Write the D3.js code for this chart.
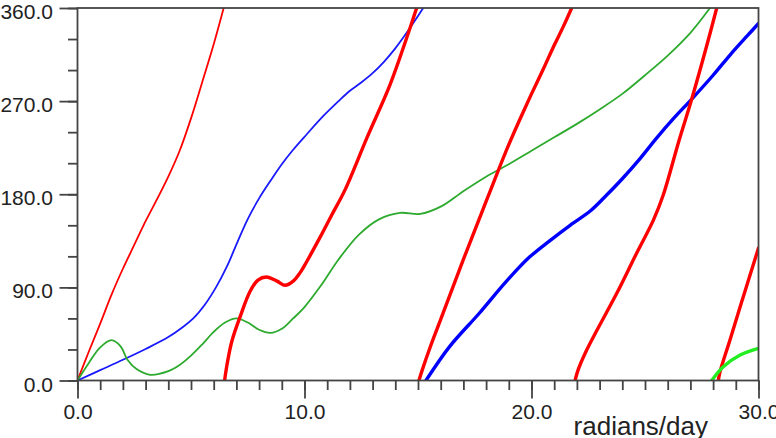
<!DOCTYPE html>
<html>
<head>
<meta charset="utf-8">
<script src="https://cdn.jsdelivr.net/npm/d3@7"></script>
<style>
  html, body { margin: 0; padding: 0; background: #fff; }
  svg { display: block; font-family: "Liberation Sans", Arial, Helvetica, sans-serif; }
</style>
</head>
<body>
<div id="chart"></div>
<script>
// phase (degrees) against frequency (radians/day), one array of [x, value] per curve
const redThinA   = [[0,0],[0.5,28],[1.0,55],[1.5,83],[2.0,108],[2.5,131],[3.0,154],[3.5,175],[4.0,197],[4.5,222],[5.04,256],[5.6,296],[6.0,325],[6.44,360]];
const blueThinB  = [[0,0],[1.0,10],[2.0,20],[3.0,30.5],[4.0,42],[4.6,51],[5.1,60],[5.6,73],[6.1,90],[6.6,111],[7.05,134],[7.5,156],[8.0,176],[8.5,193],[9.0,209],[9.5,223],[10.1,238],[10.8,255],[11.5,270],[12.0,280],[12.5,288],[13.0,297],[13.5,308],[14.0,321],[14.5,336],[15.23,360]];
const greenThinC = [[0,0],[0.5,17],[1.0,32],[1.5,39],[1.9,33],[2.2,20],[2.6,11],[3.2,5.5],[4.0,9],[4.5,15],[5.0,24],[5.5,35],[6.0,47],[6.5,56],[7.0,60],[7.5,56],[8.0,49],[8.5,46],[9.0,50],[9.5,60],[10.0,71],[10.7,91],[11.5,117],[12.4,141],[13.3,156],[14.2,162],[15.1,161],[16.0,168],[17.0,183],[18.0,197],[19.0,209],[20.0,222],[21.0,235],[22.0,248],[23.0,262],[24.0,277],[25.0,295],[26.0,314],[27.0,336],[27.86,360]];
const redThickD  = [[6.48,0],[6.6,17],[6.8,38],[7.17,62],[7.6,86],[7.95,97],[8.32,100],[8.79,96],[9.15,92],[9.5,96],[9.8,104],[10.1,115],[10.7,139],[11.2,160],[11.78,184],[12.74,234],[13.77,286],[14.5,331],[14.94,360]];
const redThickE  = [[15.04,0],[15.2,11],[15.5,30],[16.0,59],[16.5,88],[17.0,117],[17.5,145],[18.0,173],[18.5,201],[19.0,228],[19.5,253],[20.0,277],[20.5,300],[21.0,324],[21.4,342],[21.77,360]];
const blueThickF = [[15.35,0],[16.4,33],[17.7,65],[18.9,96],[19.9,119],[20.8,135],[21.7,150],[22.6,164],[23.3,179],[24.0,195],[24.8,215],[25.5,234],[26.25,253],[27.06,272],[28.0,295],[28.8,316],[29.5,333],[30.0,345]];
const redThickG  = [[21.92,0],[22.05,10],[22.4,28],[22.87,48],[23.75,84],[24.63,123],[25.37,155],[25.8,179],[26.5,232],[27.06,272],[27.7,322],[28.16,360]];
const redThickH  = [[28.23,0],[28.3,8],[28.74,39],[29.33,81],[30.0,128]];
const greenThickI = [[27.94,0],[28.45,13.3],[29.19,24.6],[30.0,31]];

const xMajor = [0, 10, 20, 30];
const yMajor = [0, 90, 180, 270, 360];
const xLabel = "radians/day";

const W = 776, H = 438;
const plotL = 77.5, plotR = 758.5, plotT = 8, plotB = 380.5;

const x = d3.scaleLinear().domain([0, 30]).range([plotL, plotR]);
const y = d3.scaleLinear().domain([0, 360]).range([plotB, plotT]);

const svg = d3.select("#chart").append("svg")
    .attr("width", W).attr("height", H);

svg.append("clipPath").attr("id", "plot-clip")
  .append("rect").attr("x", plotL).attr("y", plotT)
    .attr("width", plotR - plotL).attr("height", plotB - plotT);

const line = d3.line()
    .x(d => x(d[0])).y(d => y(d[1]))
    .curve(d3.curveCatmullRom.alpha(0.5));

// thin curves first, thick ones on top
const curves = [
  { data: redThinA,    color: "#ff0000", width: 1.8 },
  { data: blueThinB,   color: "#1a1aff", width: 1.8 },
  { data: greenThinC,  color: "#2eaa2e", width: 1.8 },
  { data: redThickD,   color: "#ff0000", width: 3.4 },
  { data: redThickE,   color: "#ff0000", width: 3.4 },
  { data: blueThickF,  color: "#0000ff", width: 3.4 },
  { data: redThickG,   color: "#ff0000", width: 3.4 },
  { data: redThickH,   color: "#ff0000", width: 3.4 },
  { data: greenThickI, color: "#22ee22", width: 3.4 }
];

svg.append("g").attr("clip-path", "url(#plot-clip)")
  .selectAll("path").data(curves).join("path")
    .attr("d", d => line(d.data))
    .attr("fill", "none")
    .attr("stroke", d => d.color)
    .attr("stroke-width", d => d.width)
    .attr("stroke-linejoin", "round")
    .attr("stroke-linecap", "round");

const axisColor = "#444";
const fmt = d3.format(".1f");

// minor + major ticks, pointing outward
const xMinor = svg.append("g").attr("transform", `translate(0,${plotB})`)
    .call(d3.axisBottom(x).tickValues(d3.range(0, 31, 1)).tickSize(9.5).tickFormat(""));
const xAxis = svg.append("g").attr("transform", `translate(0,${plotB})`)
    .call(d3.axisBottom(x).tickValues(xMajor).tickSize(18).tickPadding(5.5).tickFormat(fmt));
const yMinor = svg.append("g").attr("transform", `translate(${plotL},0)`)
    .call(d3.axisLeft(y).tickValues(d3.range(0, 361, 30)).tickSize(9.5).tickFormat(""));
const yAxis = svg.append("g").attr("transform", `translate(${plotL},0)`)
    .call(d3.axisLeft(y).tickValues(yMajor).tickSize(18).tickPadding(6.5).tickFormat(fmt));

[xMinor, xAxis, yMinor, yAxis].forEach(g => {
  g.select(".domain").remove();
  g.selectAll("line").attr("stroke", axisColor).attr("stroke-width", 1.8);
  g.selectAll("text").attr("fill", "#222").style("font-size", "21px")
    .style("font-family", '"Liberation Sans", Arial, Helvetica, sans-serif');
});
yAxis.selectAll("text").attr("dy", "0.5em");

// frame round the plot
svg.append("rect")
    .attr("x", plotL).attr("y", plotT)
    .attr("width", plotR - plotL).attr("height", plotB - plotT)
    .attr("fill", "none").attr("stroke", axisColor).attr("stroke-width", 1.8);

svg.append("text")
    .attr("x", 708).attr("y", 435)
    .attr("text-anchor", "end")
    .attr("fill", "#222")
    .style("font-size", "26px")
    .text(xLabel);
</script>
</body>
</html>
